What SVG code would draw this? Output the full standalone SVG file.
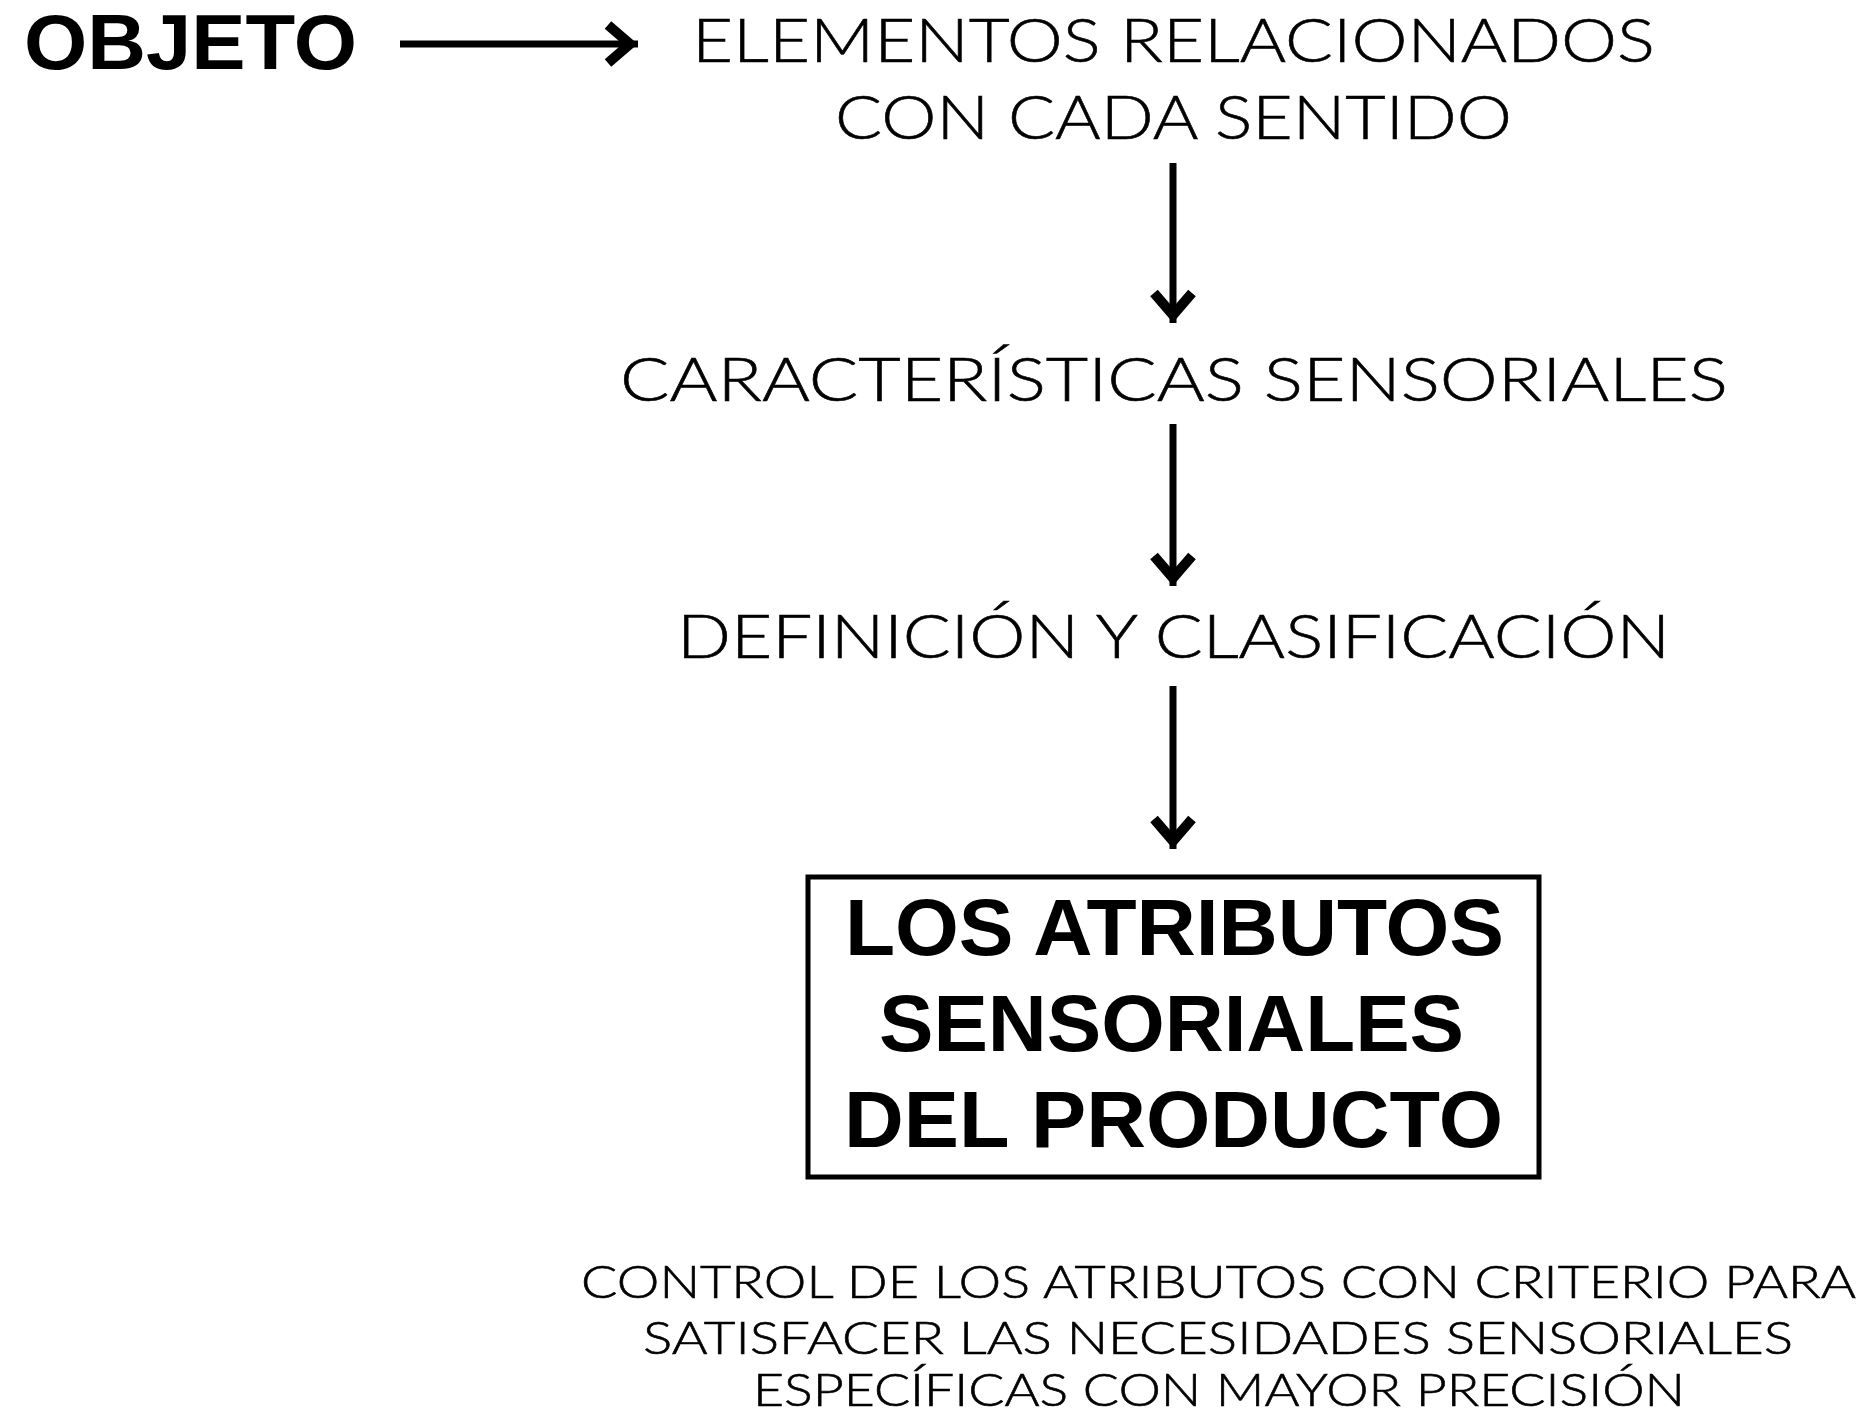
<svg xmlns="http://www.w3.org/2000/svg" width="1864" height="1416" viewBox="0 0 1864 1416">
<style>
.light{font-family:"Lato","Liberation Sans",sans-serif;font-weight:300;fill:#000;stroke:#000;stroke-width:0.6}
.bold{font-family:"Liberation Sans","Lato",sans-serif;font-weight:700;fill:#000}
.conn{stroke:#000;stroke-width:7;fill:none;marker-end:url(#chev)}
</style>
<defs>
<marker id="chev" markerUnits="userSpaceOnUse" viewBox="-40 -25 45 50" refX="0" refY="0" markerWidth="45" markerHeight="50" orient="auto" overflow="visible">
<polyline points="-30,-19 -8,0 -30,19" fill="none" stroke="#000" stroke-width="10" stroke-linejoin="miter" stroke-miterlimit="10"/>
</marker>
</defs>
<rect width="1864" height="1416" fill="#fff"/>
<g id="connectors">
<line class="conn" x1="400" y1="44" x2="638" y2="44"/>
<line class="conn" x1="1173" y1="163" x2="1173" y2="323"/>
<line class="conn" x1="1173" y1="424" x2="1173" y2="586"/>
<line class="conn" x1="1173" y1="686" x2="1173" y2="849"/>
</g>
<g id="objeto">
<text class="bold" x="24" y="69" font-size="78" textLength="333" lengthAdjust="spacingAndGlyphs">OBJETO</text>
</g>
<g id="elementos">
<text class="light" x="692" y="62" font-size="61" textLength="963" lengthAdjust="spacingAndGlyphs">ELEMENTOS RELACIONADOS</text>
<text class="light" x="835" y="139" font-size="61" textLength="677" lengthAdjust="spacingAndGlyphs">CON CADA SENTIDO</text>
</g>
<g id="caracteristicas">
<text class="light" x="620" y="401" font-size="61" textLength="1108" lengthAdjust="spacingAndGlyphs">CARACTERÍSTICAS SENSORIALES</text>
</g>
<g id="definicion">
<text class="light" x="677" y="658" font-size="61" textLength="993" lengthAdjust="spacingAndGlyphs">DEFINICIÓN Y CLASIFICACIÓN</text>
</g>
<g id="atributos">
<rect x="808" y="877" width="731" height="300" fill="none" stroke="#000" stroke-width="5"/>
<text class="bold" x="845" y="955" font-size="80" textLength="659" lengthAdjust="spacingAndGlyphs">LOS ATRIBUTOS</text>
<text class="bold" x="879" y="1051" font-size="80" textLength="585" lengthAdjust="spacingAndGlyphs">SENSORIALES</text>
<text class="bold" x="844" y="1147" font-size="80" textLength="659" lengthAdjust="spacingAndGlyphs">DEL PRODUCTO</text>
</g>
<g id="control">
<text class="light" x="581" y="1298" font-size="45" textLength="1275" lengthAdjust="spacingAndGlyphs">CONTROL DE LOS ATRIBUTOS CON CRITERIO PARA</text>
<text class="light" x="643" y="1354" font-size="45" textLength="1150" lengthAdjust="spacingAndGlyphs">SATISFACER LAS NECESIDADES SENSORIALES</text>
<text class="light" x="753" y="1406" font-size="45" textLength="932" lengthAdjust="spacingAndGlyphs">ESPECÍFICAS CON MAYOR PRECISIÓN</text>
</g>
</svg>
